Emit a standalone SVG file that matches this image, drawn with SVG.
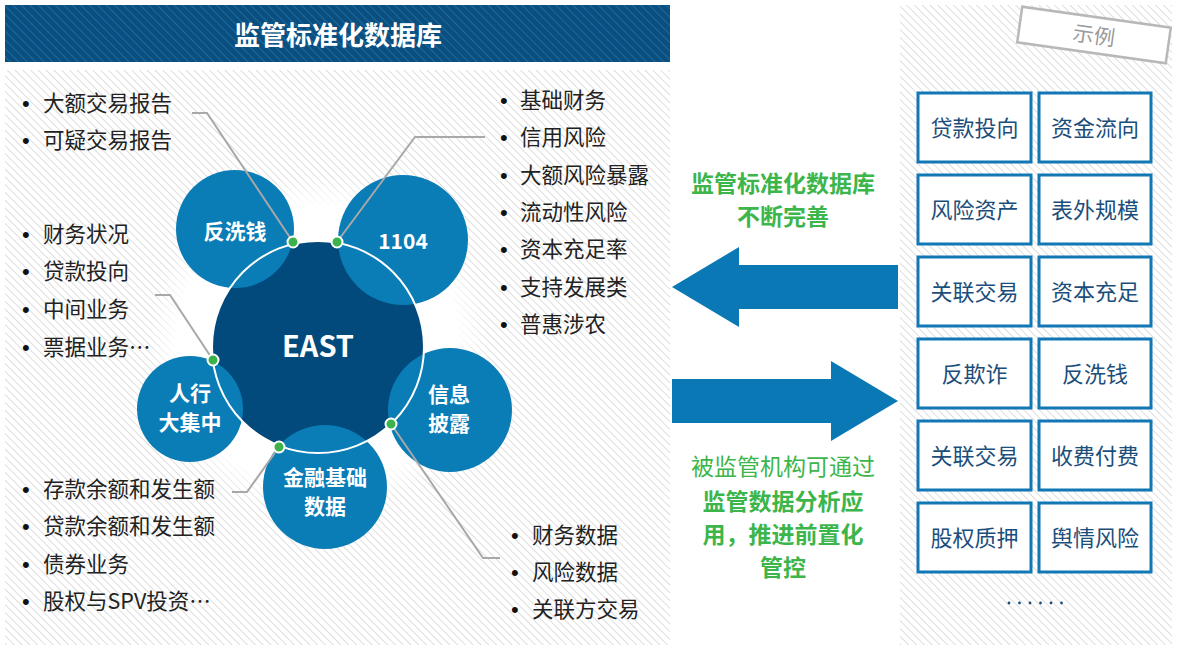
<svg xmlns="http://www.w3.org/2000/svg" width="1179" height="648" viewBox="0 0 1179 648">
<defs>
<pattern id="hatch" width="5.5" height="5.5" patternUnits="userSpaceOnUse" patternTransform="rotate(45)">
<rect width="5.5" height="5.5" fill="#ffffff"/>
<line x1="0" y1="0" x2="5.5" y2="0" stroke="#d6d6d6" stroke-width="1.6"/>
</pattern>
<pattern id="hatchDark" width="6" height="6" patternUnits="userSpaceOnUse" patternTransform="rotate(45)">
<rect width="6" height="6" fill="#0a4f80"/>
<line x1="0" y1="0" x2="6" y2="0" stroke="#1f72a6" stroke-width="1.6"/>
</pattern>
<radialGradient id="halo" cx="318" cy="346" r="170" gradientUnits="userSpaceOnUse">
<stop offset="0.82" stop-color="#ffffff" stop-opacity="1"/>
<stop offset="1" stop-color="#ffffff" stop-opacity="0"/>
</radialGradient>
<style>
.t{font-family:"Noto Sans CJK SC","Liberation Sans",sans-serif;}
.list{font-size:21.5px;fill:#222222;}
.bul{font-family:"Liberation Sans",sans-serif;font-size:22px;fill:#111111;}
.sat{fill:#0a7cb6;}
.satT{font-size:21px;font-weight:bold;fill:#ffffff;text-anchor:middle;}
.conn{fill:none;stroke:#a8a8a8;stroke-width:2;}
.dot{fill:#3bb34a;stroke:#ffffff;stroke-width:2;}
.box{fill:#ffffff;stroke:#1177b5;stroke-width:3;}
.boxT{font-size:22px;fill:#1b4e7b;text-anchor:middle;}
.grn{font-size:23px;fill:#3cb54a;text-anchor:middle;}
.arrow{fill:#0a78b4;}
</style>
</defs>
<rect width="1179" height="648" fill="#ffffff"/>
<!-- panels -->
<rect x="5" y="70" width="665" height="575" fill="url(#hatch)"/>
<rect x="900" y="5" width="272" height="640" fill="url(#hatch)"/>
<circle cx="318" cy="346" r="170" fill="url(#halo)"/>
<!-- title bar -->
<g id="title">
<rect x="5" y="5" width="665" height="57" fill="url(#hatchDark)"/>
<text class="t" x="338" y="45" font-size="26" font-weight="bold" fill="#ffffff" text-anchor="middle">监管标准化数据库</text>
</g>
<!-- central hub -->
<g id="east">
<circle cx="318" cy="347" r="106" fill="#024a7b"/>
</g>
<g id="node-fxq">
<circle class="sat" cx="235" cy="229" r="59"/>
<text class="t satT" x="235" y="239">反洗钱</text>
</g>
<g id="node-1104">
<circle class="sat" cx="403" cy="240" r="65"/>
<text class="t satT" x="403" y="249" font-size="23">1104</text>
</g>
<g id="node-rh">
<circle class="sat" cx="190" cy="409" r="53"/>
<text class="t satT" x="190" y="401">人行</text>
<text class="t satT" x="190" y="430">大集中</text>
</g>
<g id="node-xx">
<circle class="sat" cx="450" cy="410" r="62"/>
<text class="t satT" x="449" y="402">信息</text>
<text class="t satT" x="449" y="431">披露</text>
</g>
<g id="node-jr">
<circle class="sat" cx="325" cy="487" r="62"/>
<text class="t satT" x="325" y="485">金融基础</text>
<text class="t satT" x="325" y="514">数据</text>
</g>
<g id="east-ring">
<circle cx="318" cy="347" r="106" fill="none" stroke="#ffffff" stroke-width="2"/>
<text class="t" x="318" y="357" font-size="29" font-weight="bold" fill="#ffffff" text-anchor="middle">EAST</text>
</g>
<!-- connectors -->
<g id="connectors">
<polyline class="conn" points="192,113 207,113 293,242"/>
<polyline class="conn" points="485,137 415,137 337,242"/>
<polyline class="conn" points="155,295 170,295 213,360"/>
<polyline class="conn" points="232,492 247,492 279,447"/>
<polyline class="conn" points="391,424 483,558 500,558"/>
<circle class="dot" cx="293" cy="242" r="5.5"/>
<circle class="dot" cx="337" cy="242" r="5.5"/>
<circle class="dot" cx="213" cy="360" r="5.5"/>
<circle class="dot" cx="391" cy="424" r="5.5"/>
<circle class="dot" cx="279" cy="447" r="5.5"/>
</g>
<!-- lists -->
<g id="list-fxq" class="t list">
<text x="22" y="111"><tspan class="bul">•</tspan><tspan x="43">大额交易报告</tspan></text>
<text x="22" y="148"><tspan class="bul">•</tspan><tspan x="43">可疑交易报告</tspan></text>
</g>
<g id="list-rh" class="t list">
<text x="22" y="242"><tspan class="bul">•</tspan><tspan x="43">财务状况</tspan></text>
<text x="22" y="279"><tspan class="bul">•</tspan><tspan x="43">贷款投向</tspan></text>
<text x="22" y="317"><tspan class="bul">•</tspan><tspan x="43">中间业务</tspan></text>
<text x="22" y="355"><tspan class="bul">•</tspan><tspan x="43">票据业务…</tspan></text>
</g>
<g id="list-jr" class="t list">
<text x="22" y="497"><tspan class="bul">•</tspan><tspan x="43">存款余额和发生额</tspan></text>
<text x="22" y="534"><tspan class="bul">•</tspan><tspan x="43">贷款余额和发生额</tspan></text>
<text x="22" y="572"><tspan class="bul">•</tspan><tspan x="43">债券业务</tspan></text>
<text x="22" y="609"><tspan class="bul">•</tspan><tspan x="43">股权与SPV投资…</tspan></text>
</g>
<g id="list-1104" class="t list">
<text x="500" y="108"><tspan class="bul">•</tspan><tspan x="520">基础财务</tspan></text>
<text x="500" y="145"><tspan class="bul">•</tspan><tspan x="520">信用风险</tspan></text>
<text x="500" y="183"><tspan class="bul">•</tspan><tspan x="520">大额风险暴露</tspan></text>
<text x="500" y="220"><tspan class="bul">•</tspan><tspan x="520">流动性风险</tspan></text>
<text x="500" y="257"><tspan class="bul">•</tspan><tspan x="520">资本充足率</tspan></text>
<text x="500" y="295"><tspan class="bul">•</tspan><tspan x="520">支持发展类</tspan></text>
<text x="500" y="332"><tspan class="bul">•</tspan><tspan x="520">普惠涉农</tspan></text>
</g>
<g id="list-xx" class="t list">
<text x="511" y="543"><tspan class="bul">•</tspan><tspan x="532">财务数据</tspan></text>
<text x="511" y="580"><tspan class="bul">•</tspan><tspan x="532">风险数据</tspan></text>
<text x="511" y="617"><tspan class="bul">•</tspan><tspan x="532">关联方交易</tspan></text>
</g>
<!-- middle arrows and texts -->
<g id="arrow-left">
<polygon class="arrow" points="672,287 739,247 739,265 898,265 898,309 739,309 739,327"/>
</g>
<g id="arrow-right">
<polygon class="arrow" points="898,401 831,361 831,379 672,379 672,423 831,423 831,441"/>
</g>
<g id="text-top" class="t grn" font-weight="bold">
<text x="783" y="192">监管标准化数据库</text>
<text x="783" y="225">不断完善</text>
</g>
<g id="text-bottom" class="t grn">
<text x="783" y="475">被监管机构可通过</text>
<text x="783" y="510" font-weight="bold">监管数据分析应</text>
<text x="783" y="543" font-weight="bold">用，推进前置化</text>
<text x="783" y="576" font-weight="bold">管控</text>
</g>
<!-- example tag -->
<g id="tag" transform="rotate(8 1094 35)">
<rect x="1019" y="17" width="150" height="36" fill="#ffffff" stroke="#b8b8b8" stroke-width="2.5"/>
<text class="t" x="1094" y="43" font-size="21" fill="#9a9a9a" text-anchor="middle">示例</text>
</g>
<!-- boxes -->
<g id="b1"><rect class="box" x="918" y="93" width="113" height="69"/><text class="t boxT" x="974.5" y="136">贷款投向</text></g>
<g id="b2"><rect class="box" x="1039" y="93" width="112" height="69"/><text class="t boxT" x="1095" y="136">资金流向</text></g>
<g id="b3"><rect class="box" x="918" y="175" width="113" height="69"/><text class="t boxT" x="974.5" y="218">风险资产</text></g>
<g id="b4"><rect class="box" x="1039" y="175" width="112" height="69"/><text class="t boxT" x="1095" y="218">表外规模</text></g>
<g id="b5"><rect class="box" x="918" y="257" width="113" height="69"/><text class="t boxT" x="974.5" y="300">关联交易</text></g>
<g id="b6"><rect class="box" x="1039" y="257" width="112" height="69"/><text class="t boxT" x="1095" y="300">资本充足</text></g>
<g id="b7"><rect class="box" x="918" y="339" width="113" height="69"/><text class="t boxT" x="974.5" y="382">反欺诈</text></g>
<g id="b8"><rect class="box" x="1039" y="339" width="112" height="69"/><text class="t boxT" x="1095" y="382">反洗钱</text></g>
<g id="b9"><rect class="box" x="918" y="421" width="113" height="69"/><text class="t boxT" x="974.5" y="464">关联交易</text></g>
<g id="b10"><rect class="box" x="1039" y="421" width="112" height="69"/><text class="t boxT" x="1095" y="464">收费付费</text></g>
<g id="b11"><rect class="box" x="918" y="503" width="113" height="69"/><text class="t boxT" x="974.5" y="546">股权质押</text></g>
<g id="b12"><rect class="box" x="1039" y="503" width="112" height="69"/><text class="t boxT" x="1095" y="546">舆情风险</text></g>
<g id="more" fill="#1b4e7b">
<circle cx="1009" cy="603" r="1.4"/>
<circle cx="1019.5" cy="603" r="1.4"/>
<circle cx="1030" cy="603" r="1.4"/>
<circle cx="1040.5" cy="603" r="1.4"/>
<circle cx="1051" cy="603" r="1.4"/>
<circle cx="1061.5" cy="603" r="1.4"/>
</g>
</svg>
